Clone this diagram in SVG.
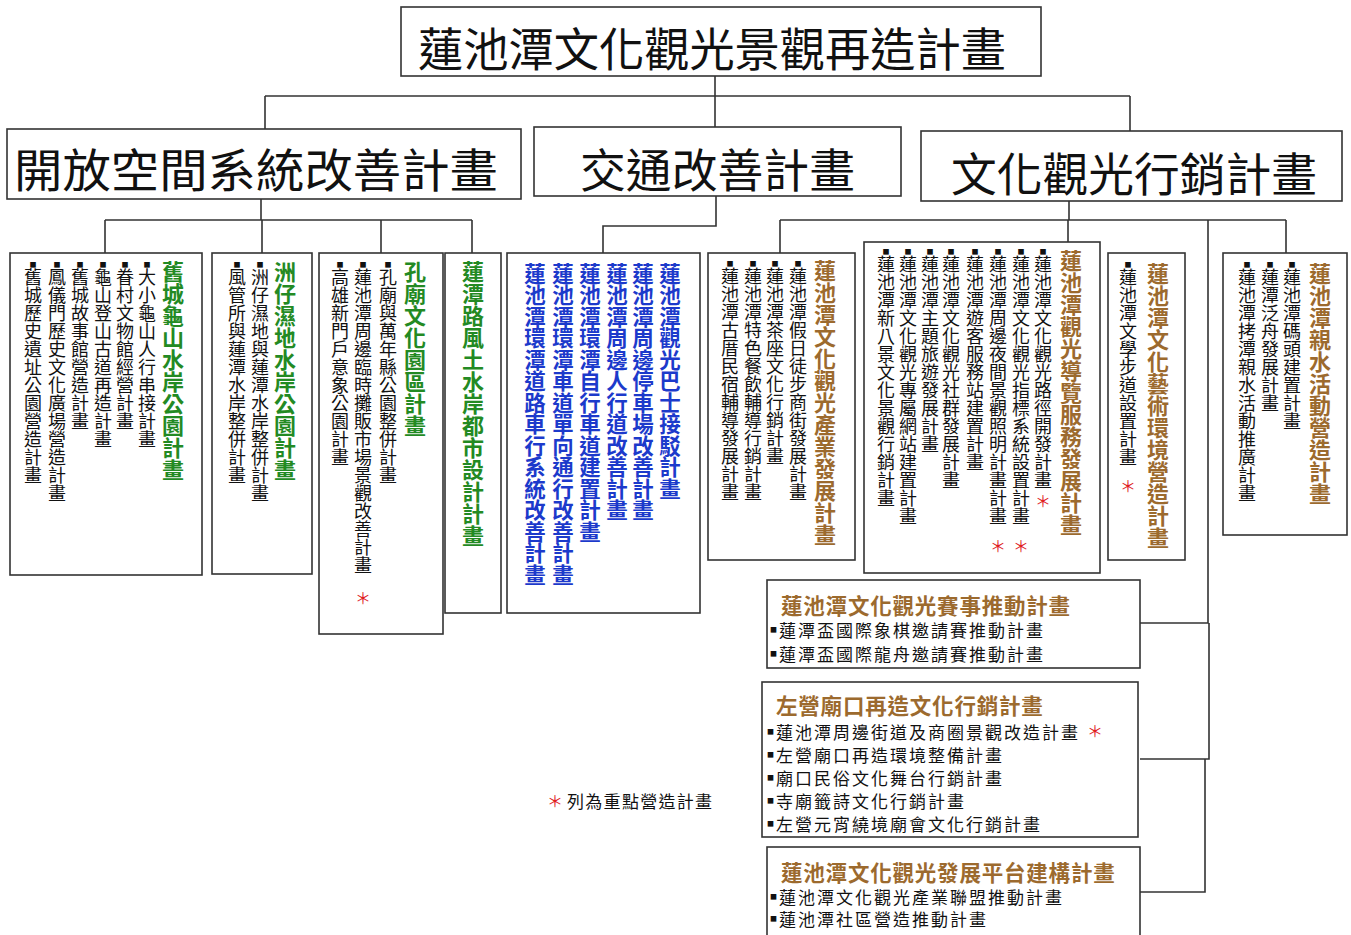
<svg xmlns="http://www.w3.org/2000/svg" width="1351" height="935" viewBox="0 0 1351 935">
<style>
.box{fill:#fff;stroke:#333;stroke-width:1.6}
.con{fill:none;stroke:#333;stroke-width:1.6}
text{font-family:"Noto Sans CJK TC","Noto Sans CJK SC",sans-serif}
.hdr{font-size:46px;fill:#111;dominant-baseline:central}
.v{writing-mode:vertical-rl;text-orientation:upright}
.vt{font-size:22px;font-weight:bold}
.vb{font-size:21.5px;font-weight:bold;fill:#1c3acb}
.vi{font-size:18px;fill:#111}
.g{fill:#238a23}
.br{fill:#9c6a2e}
.b{font-size:7px}
.ht{font-size:21.5px;font-weight:bold;fill:#9c6a2e;dominant-baseline:central;letter-spacing:0.8px}
.hi{font-size:17px;fill:#111;dominant-baseline:central;letter-spacing:2px}
.ast{fill:#e0201e;font-size:16px;text-anchor:middle;dominant-baseline:central}
</style>
<rect width="1351" height="935" fill="#fff"/>
<g id="connectors">
<path class="con" d="M715 76V127M265 96H1130M265 96V129M1130 96V131"/>
<path class="con" d="M261 199V220M105 220H472M105 220V253M262 220V253M381 220V253M472 220V253"/>
<path class="con" d="M716 196V226H603V253"/>
<path class="con" d="M1069 201V220M780 220H1286M780 220V253M1068 220V242M1286 220V253"/>
<path class="con" d="M1208 220V623H1140M1209 623V759H1140M1205 759V892H1140"/>
</g>
<g id="root">
<rect class="box" x="401" y="7" width="640" height="69"/>
<text class="hdr" x="418" y="46" textLength="588" lengthAdjust="spacingAndGlyphs">蓮池潭文化觀光景觀再造計畫</text>
</g>
<g id="open-space">
<rect class="box" x="7" y="129" width="514" height="70"/>
<text class="hdr" x="14" y="167" textLength="484" lengthAdjust="spacingAndGlyphs">開放空間系統改善計畫</text>
</g>
<g id="traffic">
<rect class="box" x="534" y="127" width="367" height="69"/>
<text class="hdr" x="580" y="167" textLength="275" lengthAdjust="spacingAndGlyphs">交通改善計畫</text>
</g>
<g id="culture-marketing">
<rect class="box" x="921" y="131" width="421" height="70"/>
<text class="hdr" x="951" y="171" textLength="366" lengthAdjust="spacingAndGlyphs">文化觀光行銷計畫</text>
</g>
<g id="guishan">
<rect class="box" x="10" y="253" width="192" height="322"/>
<text class="v vt g" x="173" y="261">舊城龜山水岸公園計畫</text>
<text class="v vi" x="147" y="261"><tspan class="b">■</tspan>大小龜山人行串接計畫</text>
<text class="v vi" x="125" y="261"><tspan class="b">■</tspan>眷村文物館經營計畫</text>
<text class="v vi" x="103" y="261"><tspan class="b">■</tspan>龜山登山古道再造計畫</text>
<text class="v vi" x="80" y="261"><tspan class="b">■</tspan>舊城故事館營造計畫</text>
<text class="v vi" x="57" y="261"><tspan class="b">■</tspan>鳳儀門歷史文化廣場營造計畫</text>
<text class="v vi" x="33" y="261"><tspan class="b">■</tspan>舊城歷史遺址公園營造計畫</text>
</g>
<g id="zhouzai">
<rect class="box" x="212" y="253" width="100" height="321"/>
<text class="v vt g" x="285" y="261">洲仔濕地水岸公園計畫</text>
<text class="v vi" x="260" y="261"><tspan class="b">■</tspan>洲仔濕地與蓮潭水岸整併計畫</text>
<text class="v vi" x="237" y="261"><tspan class="b">■</tspan>風管所與蓮潭水岸整併計畫</text>
</g>
<g id="confucius">
<rect class="box" x="319" y="253" width="124" height="381"/>
<text class="v vt g" x="415" y="261">孔廟文化園區計畫</text>
<text class="v vi" x="388" y="261"><tspan class="b">■</tspan>孔廟與萬年縣公園整併計畫</text>
<text class="v vi" x="363" y="261"><tspan class="b">■</tspan>蓮池潭周邊臨時攤販市場景觀改善計畫</text>
<text class="v vi" x="340" y="261"><tspan class="b">■</tspan>高雄新門戶意象公園計畫</text>
<text class="ast" x="363" y="597">＊</text>
</g>
<g id="liantan-road">
<rect class="box" x="445" y="253" width="56" height="360"/>
<text class="v vt g" x="473" y="261">蓮潭路風土水岸都市設計計畫</text>
</g>
<g id="transport-items">
<rect class="box" x="507" y="253" width="193" height="360"/>
<text class="v vb" x="670" y="263">蓮池潭觀光巴士接駁計畫</text>
<text class="v vb" x="643" y="263">蓮池潭周邊停車場改善計畫</text>
<text class="v vb" x="617" y="263">蓮池潭周邊人行道改善計畫</text>
<text class="v vb" x="590" y="263">蓮池潭環潭自行車道建置計畫</text>
<text class="v vb" x="563" y="263">蓮池潭環潭車道單向通行改善計畫</text>
<text class="v vb" x="535" y="263">蓮池潭環潭道路車行系統改善計畫</text>
</g>
<g id="industry">
<rect class="box" x="708" y="253" width="147" height="307"/>
<text class="v vt br" x="825" y="260">蓮池潭文化觀光產業發展計畫</text>
<text class="v vi" x="798" y="260"><tspan class="b">■</tspan>蓮池潭假日徒步商街發展計畫</text>
<text class="v vi" x="775" y="260"><tspan class="b">■</tspan>蓮池潭茶座文化行銷計畫</text>
<text class="v vi" x="753" y="260"><tspan class="b">■</tspan>蓮池潭特色餐飲輔導行銷計畫</text>
<text class="v vi" x="730" y="260"><tspan class="b">■</tspan>蓮池潭古厝民宿輔導發展計畫</text>
</g>
<g id="guide">
<rect class="box" x="864" y="242" width="236" height="331"/>
<text class="v vt br" x="1071" y="250">蓮池潭觀光導覽服務發展計畫</text>
<text class="v vi" x="1043" y="248"><tspan class="b">■</tspan>蓮池潭文化觀光路徑開發計畫</text>
<text class="v vi" x="1021" y="248"><tspan class="b">■</tspan>蓮池潭文化觀光指標系統設置計畫</text>
<text class="v vi" x="998" y="248"><tspan class="b">■</tspan>蓮池潭周邊夜間景觀照明計畫計畫</text>
<text class="v vi" x="975" y="248"><tspan class="b">■</tspan>蓮池潭遊客服務站建置計畫</text>
<text class="v vi" x="951" y="248"><tspan class="b">■</tspan>蓮池潭文化觀光社群發展計畫</text>
<text class="v vi" x="930" y="248"><tspan class="b">■</tspan>蓮池潭主題旅遊發展計畫</text>
<text class="v vi" x="908" y="248"><tspan class="b">■</tspan>蓮池潭文化觀光專屬網站建置計畫</text>
<text class="v vi" x="886" y="248"><tspan class="b">■</tspan>蓮池潭新八景文化景觀行銷計畫</text>
<text class="ast" x="1043" y="500">＊</text>
<text class="ast" x="1021" y="545">＊</text>
<text class="ast" x="998" y="545">＊</text>
</g>
<g id="art">
<rect class="box" x="1108" y="253" width="77" height="307"/>
<text class="v vt br" x="1158" y="263">蓮池潭文化藝術環境營造計畫</text>
<text class="v vi" x="1128" y="261"><tspan class="b">■</tspan>蓮池潭文學步道設置計畫</text>
<text class="ast" x="1128" y="485">＊</text>
</g>
<g id="water">
<rect class="box" x="1223" y="253" width="124" height="282"/>
<text class="v vt br" x="1320" y="263">蓮池潭親水活動營造計畫</text>
<text class="v vi" x="1292" y="261"><tspan class="b">■</tspan>蓮池潭碼頭建置計畫</text>
<text class="v vi" x="1270" y="261"><tspan class="b">■</tspan>蓮潭泛舟發展計畫</text>
<text class="v vi" x="1247" y="261"><tspan class="b">■</tspan>蓮池潭拷潭親水活動推廣計畫</text>
</g>
<g id="events">
<rect class="box" x="767" y="580" width="373" height="88"/>
<text class="ht" x="781" y="604">蓮池潭文化觀光賽事推動計畫</text>
<text class="hi" x="770" y="629"><tspan class="b">■</tspan>蓮潭盃國際象棋邀請賽推動計畫</text>
<text class="hi" x="770" y="653"><tspan class="b">■</tspan>蓮潭盃國際龍舟邀請賽推動計畫</text>
</g>
<g id="zuoying">
<rect class="box" x="762" y="682" width="376" height="155"/>
<text class="ht" x="776" y="704">左營廟口再造文化行銷計畫</text>
<text class="hi" x="767" y="731"><tspan class="b">■</tspan>蓮池潭周邊街道及商圈景觀改造計畫</text>
<text class="hi" x="767" y="754"><tspan class="b">■</tspan>左營廟口再造環境整備計畫</text>
<text class="hi" x="767" y="777"><tspan class="b">■</tspan>廟口民俗文化舞台行銷計畫</text>
<text class="hi" x="767" y="800"><tspan class="b">■</tspan>寺廟籤詩文化行銷計畫</text>
<text class="hi" x="767" y="823"><tspan class="b">■</tspan>左營元宵繞境廟會文化行銷計畫</text>
<text class="ast" x="1095" y="730">＊</text>
</g>
<g id="platform">
<rect class="box" x="767" y="847" width="373" height="100"/>
<text class="ht" x="781" y="871">蓮池潭文化觀光發展平台建構計畫</text>
<text class="hi" x="770" y="896"><tspan class="b">■</tspan>蓮池潭文化觀光產業聯盟推動計畫</text>
<text class="hi" x="770" y="918"><tspan class="b">■</tspan>蓮池潭社區營造推動計畫</text>
</g>
<g id="legend">
<text class="ast" x="555" y="800">＊</text>
<text class="hi" x="567" y="800" style="letter-spacing:1.3px">列為重點營造計畫</text>
</g>
</svg>
